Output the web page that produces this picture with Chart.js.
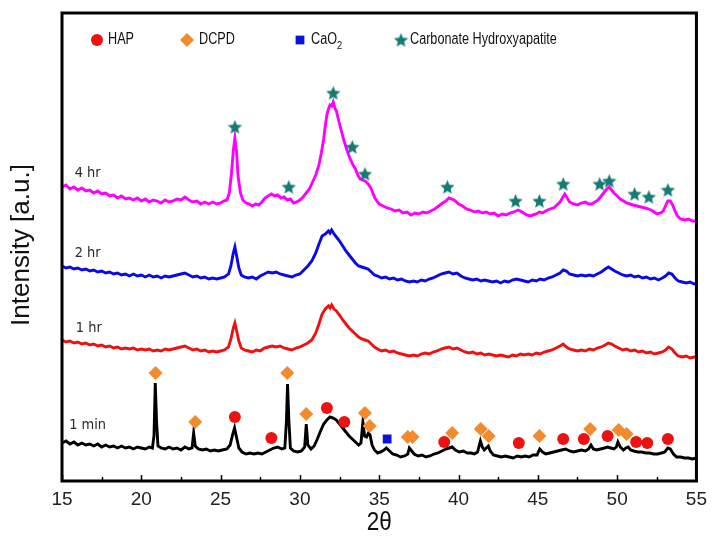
<!DOCTYPE html>
<html>
<head>
<meta charset="utf-8">
<script src="https://cdn.jsdelivr.net/npm/chart.js@4.4.1/dist/chart.umd.min.js"></script>
<style>
  html, body { margin: 0; padding: 0; background: #fff; }
  canvas { display: block; }
</style>
</head>
<body>
<canvas id="xrd" width="714" height="545"></canvas>
<script>
/* XRD patterns at four reaction times, with phase markers */

const xTicks = [15, 20, 25, 30, 35, 40, 45, 50, 55];
const traceNames = ["1 min", "1 hr", "2 hr", "4 hr"];
const phaseNames = ["HAP", "DCPD", "CaO2", "Carbonate Hydroxyapatite"];

// [2theta, intensity (a.u., stacked offsets included)]
const min1 = [
  [15,38],[15.25,40],[15.5,37],[15.75,39],[16,36],[16.25,38],[16.5,36],[16.75,37],[17,35],[17.25,37],
  [17.5,34],[17.75,36],[18,34],[18.25,35],[18.5,33],[18.75,35],[19,33],[19.25,34],[19.5,32],[19.75,34],
  [20,33],[20.25,32],[20.5,34],[20.7,33],[20.8,45],[20.88,98],[20.96,60],[21.05,35],[21.25,33],[21.5,32],
  [21.75,34],[22,32],[22.25,33],[22.5,31],[22.75,34],[23,32],[23.2,33],[23.3,48],[23.4,35],[23.6,32],
  [23.85,31],[24.1,32],[24.35,30],[24.6,31],[24.85,30],[25.1,31],[25.4,32],[25.6,36],[25.75,46],[25.88,53],
  [26,44],[26.15,33],[26.35,29],[26.6,27],[26.85,28],[27.1,27],[27.35,28],[27.6,27],[27.85,29],[28.1,31],
  [28.35,33],[28.6,34],[28.85,32],[29.05,33],[29.15,60],[29.22,97],[29.3,62],[29.4,33],[29.6,30],[29.85,29],
  [30.1,30],[30.3,34],[30.4,57],[30.5,36],[30.7,32],[30.9,35],[31.1,42],[31.3,50],[31.5,57],[31.7,61],
  [31.9,64],[32.1,63],[32.3,61],[32.5,57],[32.7,53],[32.9,49],[33.1,45],[33.3,42],[33.5,39],[33.7,36],
  [33.85,38],[33.97,59],[34.08,45],[34.2,44],[34.32,48],[34.42,46],[34.55,36],[34.7,31],[34.9,28],[35.1,29],
  [35.3,31],[35.45,33],[35.65,30],[35.85,27],[36.1,26],[36.35,24],[36.6,25],[36.8,27],[36.9,33],[37,31],
  [37.2,27],[37.45,25],[37.7,26],[37.95,24],[38.2,25],[38.45,27],[38.7,28],[38.95,30],[39.2,32],[39.4,33],
  [39.6,34],[39.8,31],[40.05,29],[40.3,30],[40.55,28],[40.8,28],[41,27],[41.2,29],[41.38,40],[41.5,34],
  [41.62,31],[41.75,33],[41.88,35],[42,30],[42.2,26],[42.45,25],[42.7,24],[42.95,25],[43.2,24],[43.45,23],
  [43.7,25],[43.95,24],[44.2,25],[44.45,24],[44.7,26],[44.95,26],[45.12,32],[45.3,29],[45.5,27],[45.75,28],
  [46,29],[46.25,30],[46.5,31],[46.75,32],[47,30],[47.25,29],[47.5,30],[47.75,31],[48,30],[48.2,32],
  [48.35,36],[48.5,32],[48.7,31],[48.95,32],[49.2,33],[49.4,34],[49.6,33],[49.8,32],[49.95,34],[50.05,39],
  [50.2,34],[50.4,31],[50.55,33],[50.7,34],[50.85,31],[51.05,30],[51.3,29],[51.55,29],[51.8,28],[52.05,28],
  [52.3,27],[52.55,27],[52.8,28],[53,29],[53.2,33],[53.35,32],[53.55,27],[53.75,24],[54,24],[54.25,23],
  [54.5,23],[54.75,22],[55,23]
];

const hr1 = [
  [15,141],[15.25,139],[15.5,140],[15.75,138],[16,139],[16.25,137],[16.5,138],[16.75,136],[17,137],[17.25,135],
  [17.5,136],[17.75,134],[18,135],[18.25,133],[18.5,134],[18.75,132],[19,133],[19.25,132],[19.5,133],[19.75,131],
  [20,132],[20.25,131],[20.5,132],[20.75,130],[21,131],[21.25,130],[21.5,132],[21.75,131],[22,132],[22.25,133],
  [22.5,134],[22.75,135],[23,133],[23.25,131],[23.5,132],[23.75,130],[24,131],[24.25,129],[24.5,130],[24.75,129],
  [25,130],[25.25,131],[25.5,134],[25.65,142],[25.8,153],[25.9,158],[26,151],[26.15,140],[26.3,133],[26.5,131],
  [26.75,130],[27,129],[27.25,131],[27.5,130],[27.75,133],[28,134],[28.25,135],[28.5,134],[28.75,135],[29,133],
  [29.25,132],[29.5,131],[29.75,133],[30,134],[30.25,136],[30.5,138],[30.75,141],[31,148],[31.2,157],[31.4,167],
  [31.6,172],[31.8,175],[31.9,173],[32,176],[32.15,172],[32.3,170],[32.5,166],[32.7,161],[32.9,157],[33.1,153],
  [33.3,150],[33.5,147],[33.7,144],[33.9,142],[34.1,141],[34.3,140],[34.5,137],[34.7,134],[34.9,132],[35.15,130],
  [35.4,131],[35.65,129],[35.9,130],[36.15,128],[36.4,127],[36.65,126],[36.9,125],[37.15,126],[37.4,125],[37.65,127],
  [37.9,128],[38.15,127],[38.4,129],[38.65,130],[38.9,132],[39.15,133],[39.4,134],[39.65,132],[39.9,133],[40.15,131],
  [40.4,129],[40.65,128],[40.9,129],[41.15,127],[41.4,128],[41.65,126],[41.9,127],[42.15,126],[42.4,125],[42.65,126],
  [42.9,125],[43.15,124],[43.4,126],[43.65,125],[43.9,127],[44.15,126],[44.4,127],[44.65,126],[44.9,128],[45.15,127],
  [45.4,129],[45.65,130],[45.9,131],[46.15,133],[46.4,135],[46.6,137],[46.8,134],[47,132],[47.25,131],[47.5,130],
  [47.75,131],[48,130],[48.25,132],[48.5,131],[48.75,133],[49,134],[49.25,136],[49.45,138],[49.65,137],[49.85,135],
  [50.1,133],[50.35,131],[50.6,132],[50.85,130],[51.1,131],[51.35,129],[51.6,130],[51.85,128],[52.1,129],[52.35,127],
  [52.6,128],[52.85,129],[53.05,131],[53.25,134],[53.45,132],[53.65,128],[53.85,125],[54.1,124],[54.35,125],[54.6,123],
  [54.85,124],[55,124]
];

const hr2 = [
  [15,215],[15.25,213],[15.5,214],[15.75,212],[16,213],[16.25,211],[16.5,212],[16.75,210],[17,211],[17.25,209],
  [17.5,210],[17.75,208],[18,209],[18.25,207],[18.5,208],[18.75,206],[19,207],[19.25,205],[19.5,207],[19.75,205],
  [20,206],[20.25,204],[20.5,206],[20.75,204],[21,205],[21.25,203],[21.5,205],[21.75,204],[22,205],[22.25,206],
  [22.5,207],[22.75,208],[23,206],[23.25,204],[23.5,205],[23.75,203],[24,204],[24.25,202],[24.5,203],[24.75,202],
  [25,203],[25.25,204],[25.5,207],[25.65,215],[25.8,228],[25.9,234],[26,226],[26.15,213],[26.3,206],[26.5,204],
  [26.75,203],[27,204],[27.25,202],[27.5,205],[27.75,207],[28,209],[28.25,208],[28.5,209],[28.75,207],[29,206],
  [29.25,205],[29.5,204],[29.75,206],[30,207],[30.25,211],[30.5,215],[30.75,220],[31,228],[31.2,237],[31.4,245],
  [31.6,247],[31.8,250],[31.9,248],[32,251],[32.15,247],[32.3,244],[32.5,240],[32.7,235],[32.9,230],[33.1,226],
  [33.3,222],[33.5,218],[33.7,215],[33.9,214],[34.1,213],[34.3,212],[34.5,209],[34.7,206],[34.9,205],[35.15,203],
  [35.4,204],[35.65,202],[35.9,203],[36.15,201],[36.4,202],[36.65,200],[36.9,199],[37.15,200],[37.4,199],[37.65,201],
  [37.9,200],[38.15,202],[38.4,203],[38.65,205],[38.9,207],[39.15,208],[39.4,209],[39.65,207],[39.9,208],[40.15,205],
  [40.4,203],[40.65,202],[40.9,201],[41.15,202],[41.4,200],[41.65,201],[41.9,200],[42.15,199],[42.4,200],[42.65,198],
  [42.9,200],[43.15,199],[43.4,201],[43.65,202],[43.9,201],[44.15,200],[44.4,199],[44.65,201],[44.9,200],[45.15,202],
  [45.4,201],[45.65,203],[45.9,204],[46.15,206],[46.4,208],[46.6,211],[46.8,210],[47,207],[47.25,206],[47.5,205],
  [47.75,206],[48,205],[48.25,206],[48.5,205],[48.75,207],[49,209],[49.25,212],[49.45,214],[49.65,212],[49.85,210],
  [50.1,208],[50.35,206],[50.6,205],[50.85,206],[51.1,204],[51.35,205],[51.6,203],[51.85,204],[52.1,202],[52.35,203],
  [52.6,201],[52.85,203],[53.05,205],[53.25,208],[53.45,207],[53.65,203],[53.85,200],[54.1,199],[54.35,198],[54.6,199],
  [54.85,197],[55,198]
];

const hr4 = [
  [15,294],[15.25,296],[15.5,292],[15.75,294],[16,291],[16.25,293],[16.5,290],[16.75,291],[17,288],[17.25,290],
  [17.5,287],[17.75,288],[18,285],[18.25,286],[18.5,283],[18.75,285],[19,282],[19.25,283],[19.5,281],[19.75,283],
  [20,280],[20.25,282],[20.5,279],[20.75,281],[21,280],[21.25,278],[21.5,281],[21.75,279],[22,280],[22.25,282],
  [22.5,281],[22.75,284],[23,281],[23.25,279],[23.5,280],[23.75,277],[24,279],[24.25,277],[24.5,279],[24.75,277],
  [25,278],[25.2,280],[25.4,281],[25.55,288],[25.7,310],[25.8,330],[25.9,343],[26,330],[26.1,305],[26.25,288],
  [26.4,281],[26.6,278],[26.8,277],[27,275],[27.2,277],[27.4,276],[27.6,279],[27.8,283],[28,285],[28.2,287],
  [28.4,285],[28.6,286],[28.8,283],[29,284],[29.2,281],[29.4,282],[29.6,278],[29.8,279],[30,281],[30.2,284],
  [30.4,288],[30.6,292],[30.8,299],[31,306],[31.2,316],[31.35,328],[31.5,342],[31.6,355],[31.7,366],[31.8,372],
  [31.9,376],[32,375],[32.1,379],[32.2,373],[32.3,370],[32.45,360],[32.6,351],[32.75,342],[32.9,334],[33.05,327],
  [33.2,321],[33.35,316],[33.5,312],[33.65,306],[33.8,302],[33.95,301],[34.1,300],[34.25,298],[34.4,295],[34.55,290],
  [34.7,284],[34.85,280],[35,277],[35.25,275],[35.5,273],[35.75,272],[36,270],[36.25,271],[36.5,268],[36.75,269],
  [37,266],[37.25,268],[37.5,267],[37.75,269],[38,268],[38.25,270],[38.5,272],[38.75,275],[39,278],[39.2,280],
  [39.4,283],[39.6,282],[39.8,280],[40,277],[40.25,275],[40.5,272],[40.75,271],[41,269],[41.25,270],[41.5,268],
  [41.75,269],[42,267],[42.25,268],[42.5,265],[42.75,267],[43,266],[43.25,268],[43.5,269],[43.75,271],[43.9,270],
  [44.1,268],[44.3,266],[44.5,265],[44.7,266],[44.9,267],[45.1,269],[45.3,268],[45.5,270],[45.75,272],[46,273],
  [46.2,276],[46.4,279],[46.55,283],[46.7,287],[46.85,283],[47,279],[47.25,277],[47.5,276],[47.75,278],[48,279],
  [48.2,277],[48.4,277],[48.6,279],[48.8,281],[49,285],[49.2,289],[49.35,292],[49.5,294],[49.65,291],[49.8,288],
  [50,285],[50.2,282],[50.4,280],[50.6,278],[50.8,277],[51,276],[51.25,275],[51.5,274],[51.75,273],[52,272],
  [52.25,270],[52.5,267],[52.75,268],[52.9,270],[53.05,275],[53.2,280],[53.35,280],[53.5,276],[53.65,270],[53.8,265],
  [54,262],[54.25,261],[54.5,262],[54.75,260],[55,260]
];

// phase markers
const hapMarks = [[25.9,64],[28.2,43],[31.7,73],[32.8,59],[39.1,39],[43.8,38],[46.6,42],[47.9,42],[49.4,45],[51.2,39],[51.9,38],[53.2,42]];
const dcpdMarks = [[20.9,108],[23.4,59],[29.2,108],[30.4,67],[34.1,68],[34.4,55],[36.8,44],[37.1,44],[39.6,48],[41.4,52],[41.9,45],[45.1,45],[48.3,52],[50.1,51],[50.6,47]];
const caoMarks = [[35.5,42]];
const chapMarks = [[25.9,354],[29.3,294],[32.1,388],[33.3,334],[34.1,307],[39.3,294],[43.6,280],[45.1,280],[46.6,297],[48.9,297],[49.5,300],[51.1,287],[52.0,284],[53.2,291]];

const traceColors = ["#000000", "#f01010", "#0a0ae8", "#ff00ff"];
const HAP_RED = "#ee1111", DCPD_ORANGE = "#f28a2e", CAO_BLUE = "#0a14d8", STAR_TEAL = "#157a72";

function makeStar(size, color) {
  const c = document.createElement("canvas");
  c.width = size; c.height = size;
  const g = c.getContext("2d");
  const cx = size / 2, cy = size / 2 + size * 0.04, R = size / 2, r = R * 0.45;
  g.beginPath();
  for (let i = 0; i < 10; i++) {
    const a = -Math.PI / 2 + i * Math.PI / 5;
    const rr = i % 2 ? r : R;
    g.lineTo(cx + rr * Math.cos(a), cy + rr * Math.sin(a));
  }
  g.closePath();
  g.fillStyle = color;
  g.fill();
  return c;
}
const starImg = makeStar(15, STAR_TEAL);
const starSmall = makeStar(15, STAR_TEAL);

function pts(arr) { return arr.map(function (p) { return { x: p[0], y: p[1] }; }); }

function markerSet(label, arr, style, color, radius) {
  return {
    label: label, data: pts(arr), showLine: false, order: 0,
    pointStyle: style, pointRadius: radius, pointBackgroundColor: color,
    pointBorderColor: color, pointBorderWidth: 0, pointHoverRadius: radius,
  };
}

const lineSets = [min1, hr1, hr2, hr4].map(function (arr, i) {
  return {
    label: traceNames[i], data: pts(arr), showLine: true, order: 1,
    borderColor: traceColors[i], borderWidth: 2.9, pointRadius: 0, tension: 0,
  };
});

function squeezeText(ctx, text, x, y, font, sx, color, align) {
  ctx.save();
  ctx.font = font;
  ctx.fillStyle = color;
  ctx.textBaseline = "middle";
  ctx.textAlign = align || "left";
  ctx.translate(x, y);
  ctx.scale(sx, 1);
  ctx.fillText(text, 0, 0);
  ctx.restore();
}

// where the trace names sit, in data units
const labelAnchors = [[15.45, 56], [15.87, 153], [15.8, 228], [15.8, 308]];

const decorations = {
  id: "decorations",
  afterDraw: function (chart) {
    const ctx = chart.ctx, a = chart.chartArea;
    const xs = chart.scales.x, ys = chart.scales.y;

    // trace names
    traceNames.forEach(function (name, i) {
      const px = xs.getPixelForValue(labelAnchors[i][0]);
      const py = ys.getPixelForValue(labelAnchors[i][1]);
      squeezeText(ctx, name, px, py, "14px 'DejaVu Sans'", 0.93, "#2a2a2a");
    });

    // frame
    ctx.save();
    ctx.strokeStyle = "#000";
    ctx.lineWidth = 3;
    ctx.strokeRect(a.left, a.top, a.right - a.left, a.bottom - a.top);
    // inward ticks, major every 5 and minor halfway
    ctx.lineWidth = 1.5;
    ctx.beginPath();
    for (let v = 15; v <= 55; v += 2.5) {
      const px = Math.round(xs.getPixelForValue(v)) + 0.5;
      const len = (v % 5 === 0) ? 6 : 4;
      ctx.moveTo(px, a.bottom);
      ctx.lineTo(px, a.bottom - len);
    }
    ctx.stroke();
    ctx.restore();

    // legend row
    const ly = a.top + 27;
    const items = [
      { x: 97, style: "circle", r: 6, color: HAP_RED, text: "HAP", tx: 108 },
      { x: 187, style: "rectRot", r: 7, color: DCPD_ORANGE, text: "DCPD", tx: 199 },
      { x: 300, style: "rect", r: 6.2, color: CAO_BLUE, text: "CaO", tx: 311, sub: "2" },
      { x: 401, style: starSmall, r: 7, color: STAR_TEAL, text: "Carbonate Hydroxyapatite", tx: 410 },
    ];
    items.forEach(function (it) {
      ctx.save();
      ctx.fillStyle = it.color;
      ctx.strokeStyle = it.color;
      Chart.helpers.drawPoint(ctx, { pointStyle: it.style, radius: it.r, rotation: 0, borderWidth: 0 }, it.x, ly);
      ctx.restore();
      squeezeText(ctx, it.text, it.tx, ly, "16px 'Liberation Sans'", 0.79, "#111");
      if (it.sub) {
        ctx.save();
        ctx.font = "16px 'Liberation Sans'";
        const w = ctx.measureText(it.text).width * 0.79;
        ctx.restore();
        squeezeText(ctx, it.sub, it.tx + w, ly + 6, "11px 'Liberation Sans'", 0.84, "#111");
      }
    });

    // axis titles
    ctx.save();
    ctx.translate(22, (a.top + a.bottom) / 2 - 2);
    ctx.rotate(-Math.PI / 2);
    ctx.font = "26px 'Liberation Sans'";
    ctx.fillStyle = "#111";
    ctx.textAlign = "center";
    ctx.textBaseline = "middle";
    ctx.fillText("Intensity [a.u.]", 0, 0);
    ctx.restore();
    squeezeText(ctx, "2\u03b8", (a.left + a.right) / 2, 523, "25px 'Liberation Sans'", 0.9, "#111", "center");
  }
};

new Chart(document.getElementById("xrd"), {
  type: "scatter",
  data: {
    datasets: [
      markerSet(phaseNames[0], hapMarks, "circle", HAP_RED, 6),
      markerSet(phaseNames[1], dcpdMarks, "rectRot", DCPD_ORANGE, 7),
      markerSet(phaseNames[2], caoMarks, "rect", CAO_BLUE, 6.2),
      markerSet(phaseNames[3], chapMarks, starImg, STAR_TEAL, 7),
    ].concat(lineSets),
  },
  options: {
    responsive: false,
    animation: false,
    devicePixelRatio: 1,
    layout: { padding: { left: 62, right: 12, top: 13, bottom: 0 } },
    plugins: { legend: { display: false }, tooltip: { enabled: false } },
    scales: {
      x: {
        type: "linear", min: 15, max: 55,
        afterBuildTicks: function (s) { s.ticks = xTicks.map(function (v) { return { value: v }; }); },
        afterFit: function (s) { s.height = 64; },
        grid: { display: false, drawTicks: false },
        border: { display: false },
        ticks: { color: "#222", padding: 7, maxRotation: 0, font: { family: "'Liberation Sans'", size: 19 } },
      },
      y: { display: false, min: 0, max: 468 },
    },
  },
  plugins: [decorations],
});
</script>
</body>
</html>
